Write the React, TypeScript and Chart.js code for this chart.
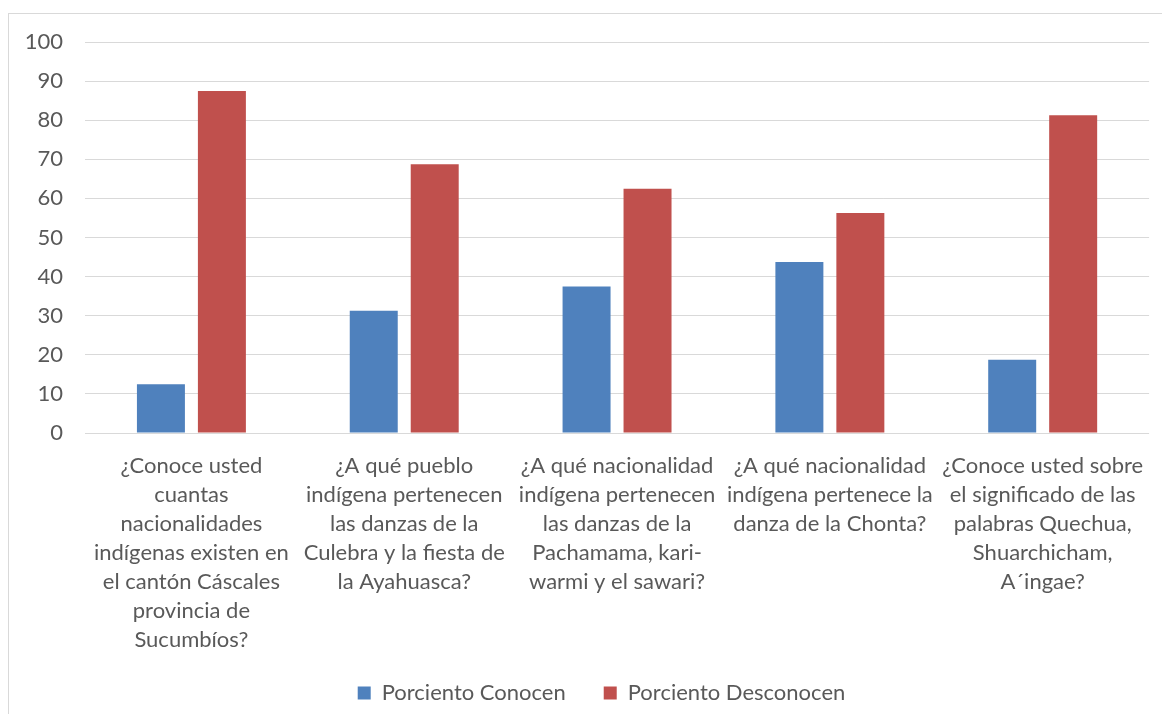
import React, { useEffect, useRef } from "react";
import { Chart, registerables } from "chart.js";

Chart.register(...registerables);

const categories: string[][] = [
  ["¿Conoce usted", "cuantas", "nacionalidades", "indígenas existen en", "el cantón Cáscales", "provincia de", "Sucumbíos?"],
  ["¿A qué pueblo", "indígena pertenecen", "las danzas de la", "Culebra y la fiesta de", "la Ayahuasca?"],
  ["¿A qué nacionalidad", "indígena pertenecen", "las danzas de la", "Pachamama, kari-", "warmi y el sawari?"],
  ["¿A qué nacionalidad", "indígena pertenece la", "danza de la Chonta?"],
  ["¿Conoce usted sobre", "el significado de las", "palabras Quechua,", "Shuarchicham,", "A´ingae?"],
];

const conocen = [12.5, 31.25, 37.5, 43.75, 18.75];
const desconocen = [87.5, 68.75, 62.5, 56.25, 81.25];

const seriesNames = ["Porciento Conocen", "Porciento Desconocen"];

const TEXT = "#595959";
const FONT_FAMILY = "Lato, 'Open Sans', sans-serif";
const FONT_SIZE = 22;

export default function App() {
  const ref = useRef<HTMLCanvasElement>(null);

  useEffect(() => {
    if (!ref.current) return;
    const chart = new Chart(ref.current, {
      type: "bar",
      data: {
        labels: categories,
        datasets: [
          {
            label: seriesNames[0],
            data: conocen,
            backgroundColor: "#4F81BD",
            categoryPercentage: 0.573,
            barPercentage: 0.787,
          },
          {
            label: seriesNames[1],
            data: desconocen,
            backgroundColor: "#C0504D",
            categoryPercentage: 0.573,
            barPercentage: 0.787,
          },
        ],
      },
      options: {
        responsive: false,
        animation: false,
        layout: { padding: { top: 28, right: 8, left: 40, bottom: 0 } },
        scales: {
          x: {
            grid: { display: false, drawTicks: false },
            border: { display: false },
            ticks: {
              autoSkip: false,
              maxRotation: 0,
              minRotation: 0,
              padding: 18,
              color: TEXT,
              font: { family: FONT_FAMILY, size: FONT_SIZE, lineHeight: "29px" },
            },
            afterFit: (s: any) => {
              s.height = 211;
              s._computeLabelArea = () => undefined;
            },
          },
          y: {
            min: 0,
            max: 100,
            ticks: {
              stepSize: 10,
              padding: 22,
              color: TEXT,
              font: { family: FONT_FAMILY, size: FONT_SIZE },
            },
            grid: { color: "#D9D9D9", drawTicks: false, lineWidth: 1 },
            border: { display: false },
            afterFit: (s: any) => {
              s.width = 36;
              s.paddingTop = 0;
              s.paddingBottom = 0;
              s._computeLabelArea = () => undefined;
            },
          },
        },
        plugins: {
          legend: {
            position: "bottom",
            labels: {
              boxWidth: 13,
              boxHeight: 13,
              padding: 38,
              color: TEXT,
              font: { family: FONT_FAMILY, size: FONT_SIZE },
            },
          },
          tooltip: { enabled: false },
        },
      },
    });
    return () => chart.destroy();
  }, []);

  return (
    <div
      style={{
        marginTop: 5,
        borderLeft: "1px solid #D9D9D9",
        borderTop: "1px solid #D9D9D9",
        width: 1153,
        height: 700,
      }}
    >
      <canvas ref={ref} width={1153} height={700} style={{ display: "block", width: 1153, height: 700 }} />
    </div>
  );
}
